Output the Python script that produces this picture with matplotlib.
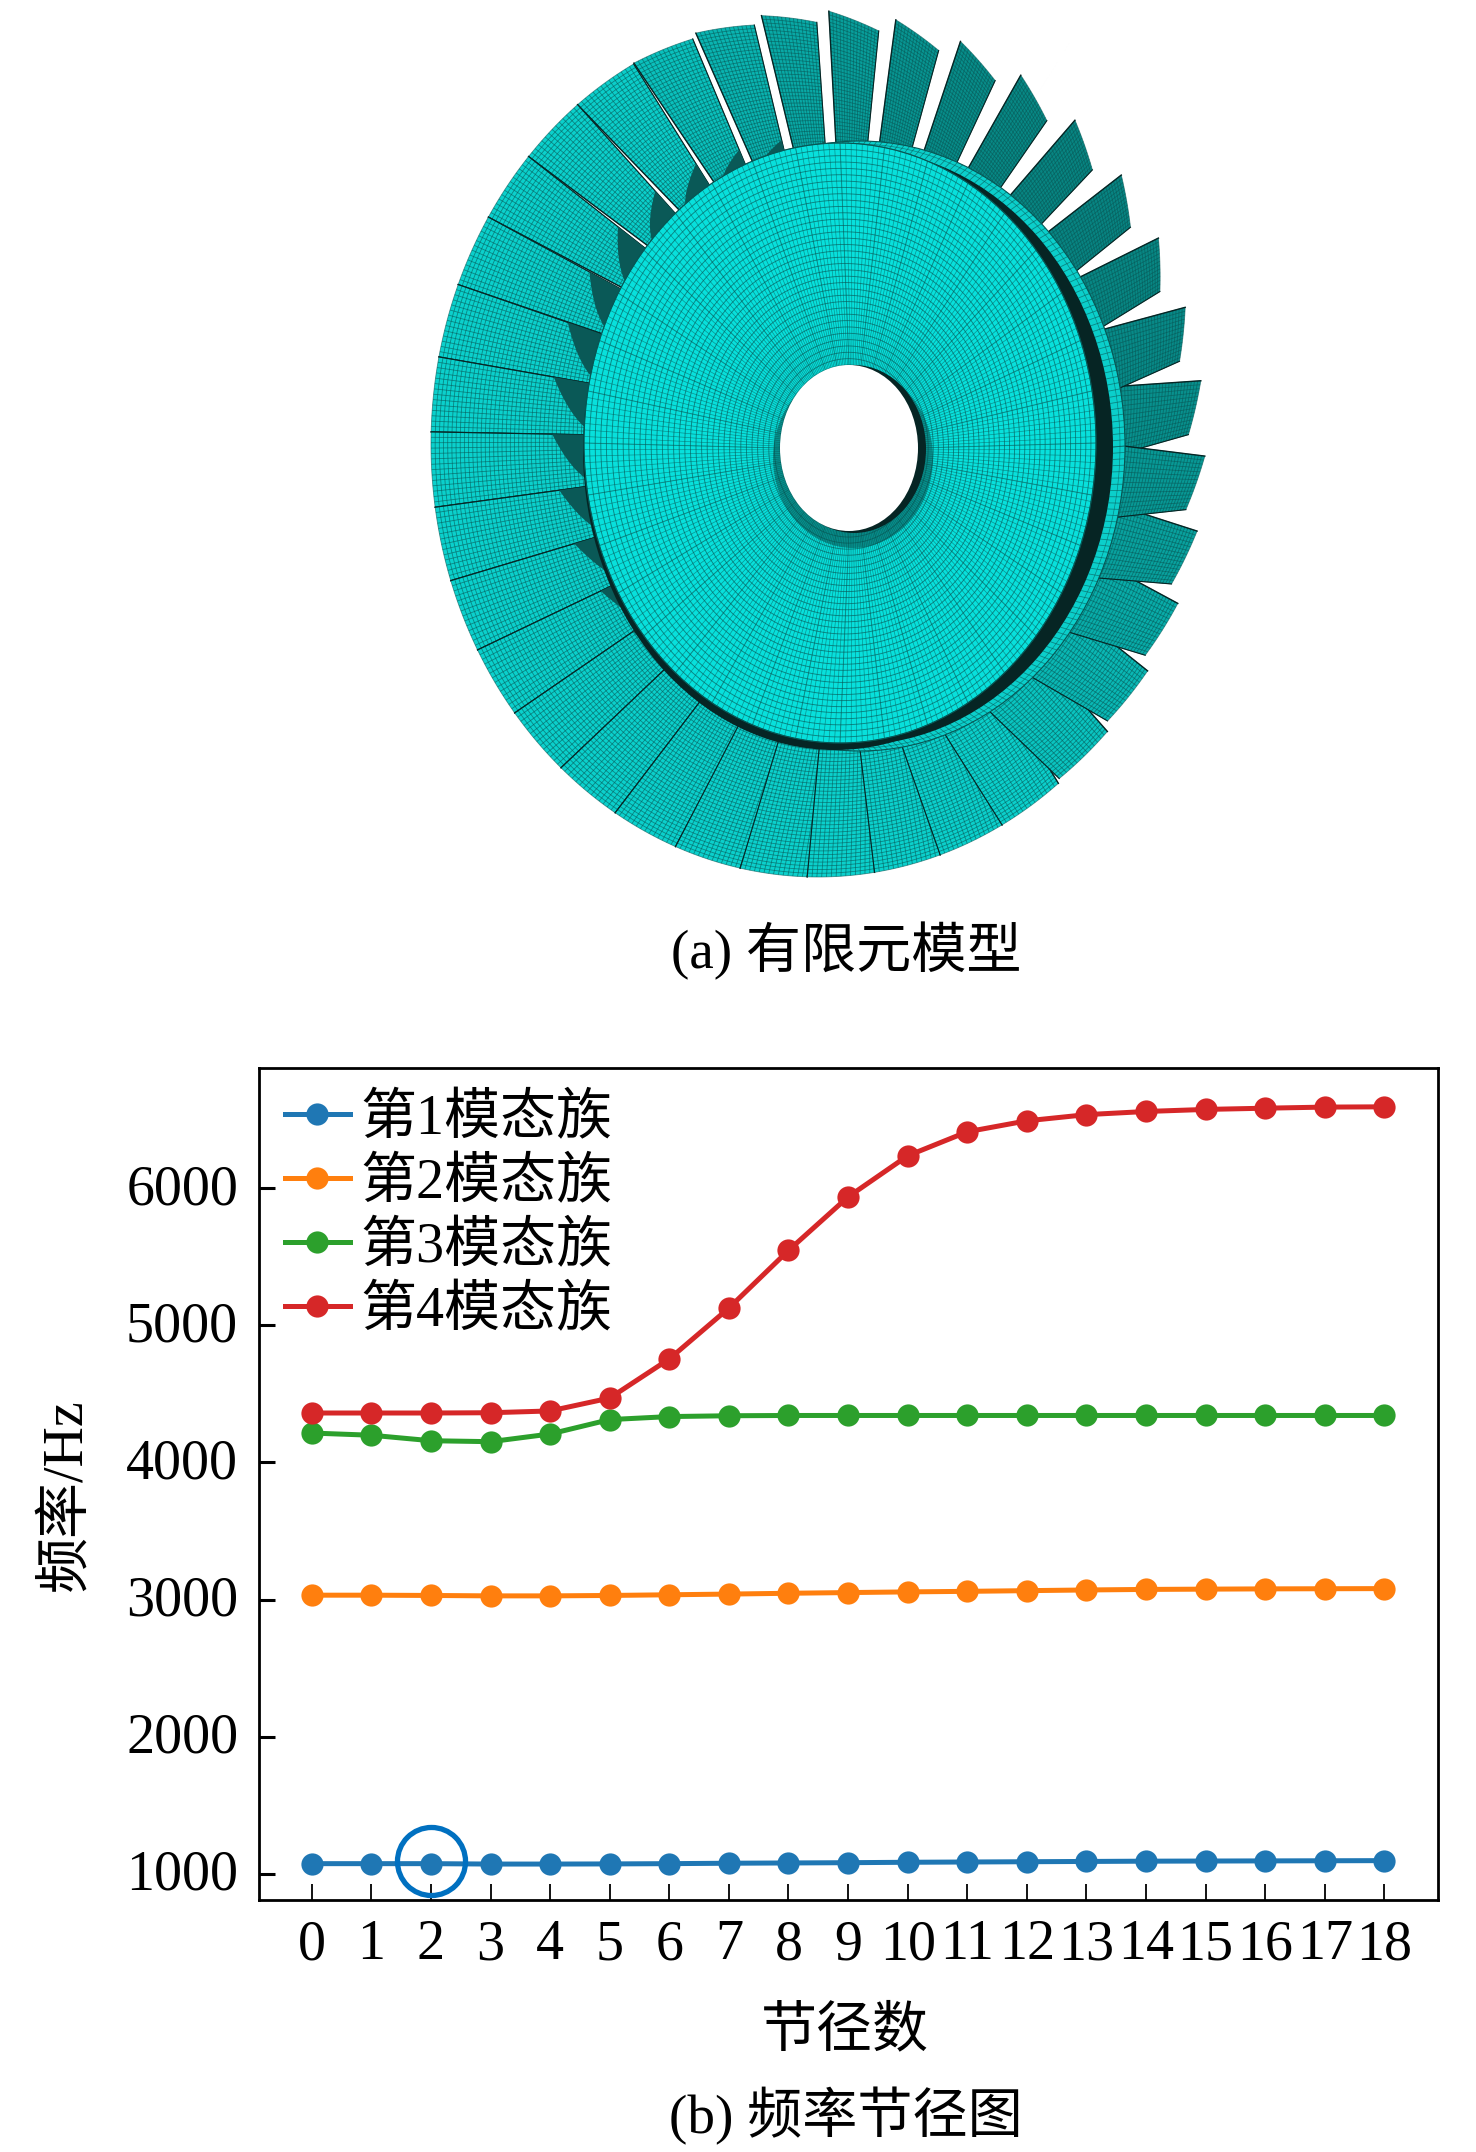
import numpy as np
import matplotlib
matplotlib.use("Agg")
import matplotlib.pyplot as plt
from matplotlib.patches import Ellipse, Polygon
from matplotlib.collections import LineCollection
from matplotlib.transforms import ScaledTranslation

plt.rcParams['font.family'] = ['Liberation Serif', 'Noto Sans CJK SC']
plt.rcParams['axes.unicode_minus'] = False

W, H = 1476, 2152
nodal = list(range(19))
tick_labels = [str(i) for i in nodal]
y_ticks = [1000, 2000, 3000, 4000, 5000, 6000]
family1 = [1075, 1075, 1075, 1072, 1072, 1073, 1075, 1078, 1080, 1082, 1085, 1087, 1089, 1091, 1093, 1094, 1095, 1096, 1097]
family2 = [3032, 3032, 3030, 3027, 3027, 3030, 3035, 3040, 3046, 3051, 3056, 3060, 3065, 3070, 3074, 3076, 3078, 3079, 3080]
family3 = [4214, 4198, 4158, 4151, 4207, 4312, 4334, 4340, 4342, 4342, 4342, 4342, 4342, 4342, 4342, 4342, 4342, 4342, 4342]
family4 = [4360, 4360, 4360, 4362, 4375, 4469, 4754, 5125, 5545, 5935, 6235, 6410, 6490, 6535, 6558, 6573, 6582, 6590, 6592]
series_names = ['第1模态族', '第2模态族', '第3模态族', '第4模态族']
series_colors = ['#1f77b4', '#ff7f0e', '#2ca02c', '#d62728']

FS = 40.3
CAP = 39.7
fig = plt.figure(figsize=(W / 100, H / 100), dpi=100, facecolor='white')

# ---------- illustration (a): finite element model of the bladed disc ----------
bg = fig.add_axes([0, 0, 1, 1], zorder=0)
bg.set_xlim(0, W); bg.set_ylim(H, 0); bg.axis('off')

BLADE = np.array(matplotlib.colors.to_rgb('#0bd0cc'))
HUB = '#08e0dc'; MESH = '#075654'; DARK = '#062524'; WEDGE = '#0a5957'

def ell(c, rx, ry, t):
    t = np.asarray(t)
    return np.stack([c[0] + rx * np.cos(t), c[1] - ry * np.sin(t)], axis=-1)

N = 36
tip_c, tip_rx, tip_ry = (818, 444), 387, 433
root_c, root_rx, root_ry = (838, 443), 240, 285
pitch = np.deg2rad(10)
start = np.deg2rad(-1.6)
S = np.linspace(0, 1, 15)
V = np.linspace(0, 1, 41)
for i in range(N):
    t0 = start + i * pitch
    mid = t0 + pitch / 2
    k = max(0.0, np.cos(mid - np.deg2rad(35)))
    left = max(0.0, np.cos(mid - np.deg2rad(160)))
    tw = 1 - 0.34 * k
    ta = t0 + pitch
    tb = ta - pitch * tw
    rad = 1 - 0.05 * k * (1 - S)
    tip = ell(tip_c, tip_rx * rad, tip_ry * rad, tb + (ta - tb) * S)
    ra = ta + 0.05 * k
    # root width: overlapped at lower right (saw-tooth tips), narrow at the top (long slits)
    root_w = 1 + 0.8 * max(0.0, np.cos(mid + np.deg2rad(30))) ** 2 - 0.3 * max(0.0, np.cos(mid - np.deg2rad(85))) ** 2
    rb = ra - pitch * root_w
    root = ell(root_c, root_rx, root_ry, rb + (ra - rb) * S)
    grid = root[:, None, :] + (tip - root)[:, None, :] * V[None, :, None]
    col = tuple(BLADE * (1 - 0.36 * k))
    outline = np.vstack([grid[0, :], grid[:, -1], grid[::-1, 0]])
    z = 2 + i * 0.001
    bg.add_patch(Polygon(outline, closed=True, fc=col, ec='none', zorder=z))
    segs = [grid[j, :] for j in range(len(S))] + [grid[:, j] for j in range(len(V))]
    bg.add_collection(LineCollection(segs, colors=MESH, linewidths=0.6, alpha=0.6, zorder=z))
    bg.plot(grid[-1, :, 0], grid[-1, :, 1], color=DARK, lw=1.0, zorder=z)
    bg.plot(grid[0, :, 0], grid[0, :, 1], color=DARK, lw=0.8, zorder=z)
    # dark wedge where one blade's curved root corner leaves the platform
    if left > 0.05:
        p = grid[0, int(13 * left)]
        q = grid[-1, 0]
        c = grid[0, 0] * 0.15 + grid[-1, int(8 * left)] * 0.85
        u = np.linspace(0, 1, 12)[:, None]
        curve = (1 - u) ** 2 * p + 2 * u * (1 - u) * c + u ** 2 * q
        bg.add_patch(Polygon(np.vstack([grid[0, 0], curve]), closed=True, fc=WEDGE, ec='none', zorder=z + 0.0005))

# rim and shadow behind the disc
rim_c, rim_rx, rim_ry = (860, 446), 265, 305
bg.add_patch(Ellipse(rim_c, 2 * rim_rx, 2 * rim_ry, fc='#0bcfcb', ec=MESH, lw=0.8, zorder=4))
dk_c, dk_rx, dk_ry = (855, 447), 258, 298
angles = np.linspace(0, 2 * np.pi, 301)
rim_spokes = np.stack([ell(dk_c, dk_rx, dk_ry, angles), ell(rim_c, rim_rx, rim_ry, angles)], axis=1)
bg.add_collection(LineCollection(rim_spokes, colors=MESH, linewidths=0.6, alpha=0.6, zorder=4.1))
bg.plot(*ell((858, 446), 262, 302, angles).T, color=MESH, lw=0.5, alpha=0.6, zorder=4.1)
bg.add_patch(Ellipse(dk_c, 2 * dk_rx, 2 * dk_ry, fc=DARK, ec='none', zorder=5))
bg.add_patch(Ellipse((835, 450), 2 * 252, 2 * 300, fc=DARK, ec='none', zorder=5))

# disc with polar mesh
hub_c, hub_rx, hub_ry = (840, 443), 256, 300
bg.add_patch(Ellipse(hub_c, 2 * hub_rx, 2 * hub_ry, fc=HUB, ec=MESH, lw=0.8, zorder=6))
ts = np.linspace(0, 2 * np.pi, 361)
hole_c, hole_rx, hole_ry = (849, 448), 69, 83
rings = []
for f in np.linspace(0, 1, 36):
    c = (hole_c[0] + (hub_c[0] - hole_c[0]) * f, hole_c[1] + (hub_c[1] - hole_c[1]) * f)
    rings.append(ell(c, hole_rx + (hub_rx - hole_rx) * f, hole_ry + (hub_ry - hole_ry) * f, ts))
a_all = np.linspace(0, 2 * np.pi, 289)[:-1]
spokes = np.stack([ell(hole_c, hole_rx, hole_ry, a_all), ell(hub_c, hub_rx, hub_ry, a_all)], axis=1)
a_sec = np.linspace(0, 2 * np.pi, 37)[:-1]
sectors = np.stack([ell(hole_c, hole_rx, hole_ry, a_sec), ell(hub_c, hub_rx, hub_ry, a_sec)], axis=1)
bg.add_collection(LineCollection(rings, colors=MESH, linewidths=0.65, alpha=0.65, zorder=7))
bg.add_collection(LineCollection(spokes, colors=MESH, linewidths=0.5, alpha=0.55, zorder=7))
bg.add_collection(LineCollection(sectors, colors=MESH, linewidths=0.8, alpha=0.3, zorder=7))

# bore
bg.add_patch(Ellipse((853, 458), 2 * 80, 2 * 90, fc='#064f4d', ec='none', alpha=0.55, zorder=8))
bg.add_patch(Ellipse((854, 449), 2 * 72, 2 * 84, fc=DARK, ec='none', zorder=8.5))
bg.add_patch(Ellipse(hole_c, 2 * hole_rx, 2 * hole_ry, fc='white', ec='none', zorder=9))

# ---------- chart (b): frequency vs. nodal diameter ----------
L, R, T, B = 259, 1438, 1068, 1900
ax = fig.add_axes([L / W, 1 - B / H, (R - L) / W, (B - T) / H], zorder=2)
for vals, c, name in zip([family1, family2, family3, family4], series_colors, series_names):
    ax.plot(nodal, vals, '-o', color=c, lw=3.6, ms=16, mew=0, label=name, clip_on=False)
ax.plot(nodal[2], family1[2] + 20, 'o', ms=49, mfc='none', mec='#0070c0', mew=3.8, zorder=5)
ax.set_xlim(-0.885, 18.9)
ax.set_ylim(810, 6875)
ax.set_xticks(nodal); ax.set_xticklabels(tick_labels)
ax.set_yticks(y_ticks)
ax.tick_params(axis='both', direction='in', length=11.5, labelsize=FS)
ax.tick_params(axis='x', width=1.3, pad=14)
ax.tick_params(axis='y', width=2.2, pad=15)
shift = ScaledTranslation(0, 4 / 100, fig.dpi_scale_trans)
for lab in ax.get_yticklabels():
    lab.set_transform(lab.get_transform() + shift)
for s in ax.spines.values():
    s.set_linewidth(2.0)
ax.legend(loc='upper left', bbox_to_anchor=(0.0, 1.0), fontsize=FS, frameon=False,
          handlelength=1.16, handletextpad=0.2, labelspacing=0.21, borderaxespad=0.36, borderpad=0.1)

fig.text(66 / W, 1 - 1495 / H, '频率/Hz', rotation=90, ha='center', va='center', fontsize=FS)
fig.text(845 / W, 1 - 2032 / H, '节径数', ha='center', va='center', fontsize=FS)
fig.text(846 / W, 1 - 2116 / H, '(b) 频率节径图', ha='center', va='center', fontsize=CAP)
fig.text(846 / W, 1 - 951 / H, '(a) 有限元模型', ha='center', va='center', fontsize=CAP)

fig.savefig('out.png', dpi=100, facecolor='white')
